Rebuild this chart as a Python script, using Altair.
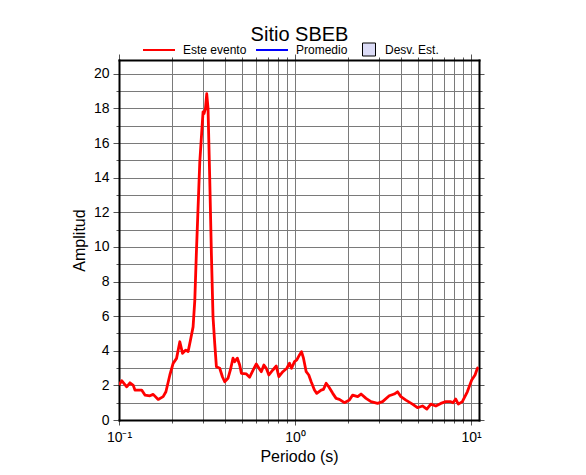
import altair as alt
import pandas as pd

periods = [0.100, 0.1036, 0.1106, 0.1154, 0.1205, 0.1232, 0.1345, 0.1404, 0.1498, 0.1564,
           0.1670, 0.1782, 0.1847, 0.1945, 0.2030, 0.2123, 0.2216, 0.2296, 0.2397, 0.2470,
           0.2548, 0.2636, 0.2695, 0.2755, 0.2877, 0.2941, 0.3003, 0.3042, 0.3099, 0.3151,
           0.3205, 0.3278, 0.3351, 0.3421,
           0.3498, 0.3576, 0.3734, 0.3868, 0.3986, 0.4161, 0.4294, 0.4442, 0.4542, 0.4704,
           0.4849, 0.4958, 0.5291, 0.5524, 0.5722, 0.6028, 0.6293, 0.6434, 0.6656, 0.6867,
           0.7105, 0.7483, 0.7826, 0.8095, 0.8529, 0.8986, 0.9307, 0.9555, 0.9935, 1.0238,
           1.0605, 1.0885, 1.1173, 1.1574, 1.1973, 1.2354, 1.2897, 1.3289, 1.4075, 1.4505,
           1.503, 1.5548, 1.638, 1.7121, 1.787,
           1.908, 2.037, 2.126, 2.270,
           2.372, 2.532, 2.702, 2.945, 3.144, 3.430, 3.662, 3.823, 3.997, 4.266,
           4.650, 4.963, 5.298, 5.610, 5.910, 6.310, 6.735, 7.191, 7.674, 7.907,
           8.190, 8.472, 8.926, 9.528, 10.09, 10.54, 10.86, 11.0]
amplitude = [2.02, 2.27, 1.92, 2.15, 2.00, 1.73, 1.73, 1.44, 1.40, 1.48,
             1.19, 1.35, 1.63, 2.60, 3.27, 3.56, 4.52, 3.85, 4.04, 3.96,
             4.62, 5.38, 6.90, 9.80, 14.9, 16.4, 17.8, 17.7, 18.0, 18.85,
             18.0, 13.9, 9.5, 5.96,
             4.43, 3.08, 2.99, 2.50, 2.21, 2.41, 2.89, 3.57, 3.37, 3.57,
             3.18, 2.70, 2.66, 2.47, 2.79, 3.24, 2.93, 2.79, 3.18, 2.99,
             2.60, 2.89, 3.12, 2.50, 2.79, 2.99, 3.28, 2.99, 3.37, 3.47,
             3.76, 3.95, 3.57, 2.79, 2.60, 2.21, 1.73, 1.54, 1.73, 1.77,
             2.12, 1.92, 1.54, 1.25, 1.19,
             1.00, 1.15, 1.44, 1.35,
             1.50, 1.25, 1.06, 0.96, 1.06, 1.40, 1.50, 1.63, 1.35, 1.15,
             0.92, 0.71, 0.81, 0.63, 0.92, 0.81, 0.96, 1.06, 1.06, 1.00,
             1.21, 0.92, 1.06, 1.63, 2.31, 2.60, 2.98, 3.05]

series_names = ["Este evento", "Promedio"]
series_colors = ["#ff0000", "#0000ff"]
band_names = ["Desv. Est."]
band_colors = ["#dcdcf7"]

x_ticks = [0.1, 0.2, 0.3, 0.4, 0.5, 0.6, 0.7, 0.8, 0.9,
           1, 2, 3, 4, 5, 6, 7, 8, 9, 10]
y_ticks = list(range(0, 21))

df = pd.DataFrame({"Periodo": periods, "Amplitud": amplitude, "serie": "Este evento"})

FONT = "Liberation Sans"
GRID = "#7a7a7a"
TICK = "#555555"

x_scale = alt.Scale(type="log", domain=[0.1, 11.1], nice=False)
y_scale = alt.Scale(domain=[0, 20.8], nice=False, zero=True)

is_major_x = "abs(log(datum.value)/LN10 - round(log(datum.value)/LN10)) < 1e-6"
x_label_expr = ("abs(datum.value - 0.1) < 1e-9 ? '10⁻¹' : abs(datum.value - 1) < 1e-9 ? '10⁰' : "
                "abs(datum.value - 10) < 1e-9 ? '10¹' : ''")

dom = dict(domain=True, domainColor="black", domainWidth=2, domainCap="square")

x_bottom = alt.Axis(values=x_ticks, labelExpr=x_label_expr, title="Periodo (s)",
                    grid=True, gridColor=GRID, gridWidth=1, gridOpacity=1,
                    tickColor=TICK, tickWidth=1,
                    tickSize={"condition": {"test": is_major_x, "value": 5}, "value": 3},
                    labelFont=FONT, labelFontSize=14, labelColor="black", labelPadding=5,
                    labelFlush=False, labelOverlap=False,
                    titleFont=FONT, titleFontSize=16, titleFontWeight="normal",
                    titleColor="black", titlePadding=4, **dom)
y_left = alt.Axis(values=y_ticks, labelExpr="datum.value % 2 == 0 ? datum.label : ''",
                  title="Amplitud", grid=True, gridColor=GRID, gridWidth=1, gridOpacity=1,
                  tickColor=TICK, tickWidth=1,
                  tickSize={"condition": {"test": "datum.value % 2 == 0", "value": 6}, "value": 3},
                  labelFont=FONT, labelFontSize=14, labelColor="black", labelPadding=4,
                  labelFlush=False, labelOverlap=False,
                  titleFont=FONT, titleFontSize=16, titleFontWeight="normal",
                  titleColor="black", titlePadding=6, **dom)
x_top = alt.Axis(orient="top", values=x_ticks, labels=False, grid=False,
                 tickColor=TICK, tickWidth=1,
                 tickSize={"condition": {"test": is_major_x, "value": 6}, "value": 3},
                 title="Sitio SBEB", titleFont=FONT, titleFontSize=20, titleFontWeight="normal",
                 titleColor="black", titleBaseline="alphabetic", titleAlign="center",
                 titleX=180, titleY=-19.5, **dom)
y_right = alt.Axis(orient="right", values=y_ticks, labels=False, title=None, grid=False,
                   tickColor=TICK, tickWidth=1,
                   tickSize={"condition": {"test": "datum.value % 2 == 0", "value": 5}, "value": 3},
                   **dom)

line = alt.Chart(df).mark_line(strokeWidth=2.8, clip=True, strokeJoin="round").encode(
    x=alt.X("Periodo:Q", scale=x_scale, axis=x_bottom),
    y=alt.Y("Amplitud:Q", scale=y_scale, axis=y_left),
    color=alt.Color("serie:N",
                    scale=alt.Scale(domain=series_names, range=series_colors),
                    legend=alt.Legend(title=None, orient="none", direction="horizontal",
                                      legendX=23, legendY=-27, symbolType="stroke",
                                      symbolSize=1024, symbolStrokeWidth=2,
                                      labelFont=FONT, labelFontSize=12, labelColor="black",
                                      labelOffset=7, columnPadding=5, padding=0)),
)

band = alt.Chart(df).transform_filter("false").mark_area(clip=True).encode(
    x=alt.X("Periodo:Q", scale=x_scale, axis=x_top),
    y=alt.Y("Amplitud:Q", scale=y_scale, axis=y_right),
    fill=alt.Fill("serie:N",
                  scale=alt.Scale(domain=band_names, range=band_colors),
                  legend=alt.Legend(title=None, orient="none", direction="horizontal",
                                    legendX=243, legendY=-17.5, symbolType="square",
                                    symbolSize=169, symbolStrokeColor="black",
                                    symbolStrokeWidth=1, symbolFillColor="#dcdcf7",
                                    labelFont=FONT, labelFontSize=12, labelColor="black",
                                    labelOffset=9, padding=0)),
)

chart = alt.layer(band, line).resolve_axis(x="independent", y="independent").properties(
    width=360, height=360,
    padding={"left": 111, "top": 52, "right": 99, "bottom": 47},
    autosize=alt.AutoSizeParams(type="none"),
).configure_view(stroke=None).configure(background="white")

chart.save("out.html", embed_options={"renderer": "svg", "actions": False})
